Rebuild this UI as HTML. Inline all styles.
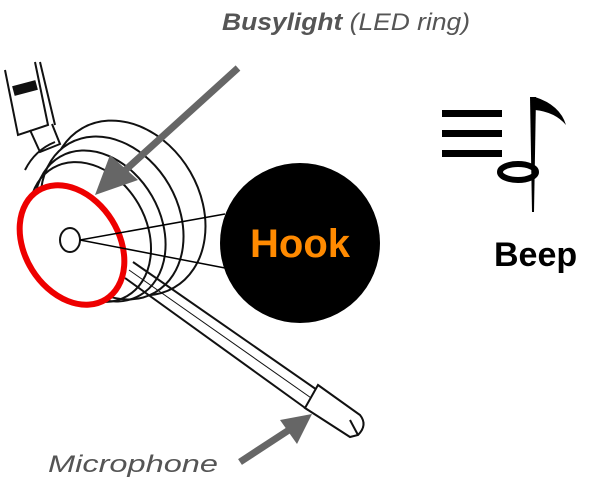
<!DOCTYPE html>
<html><head><style>html,body{margin:0;padding:0;background:#fff;width:600px;height:480px;overflow:hidden}</style></head>
<body>
<svg width="600" height="480" viewBox="0 0 600 480" xmlns="http://www.w3.org/2000/svg">
<g fill="none" stroke="#111" stroke-width="2">
  <!-- headband -->
  <path d="M5 70 L18 135 L48 125 L35 62" fill="#fff"/>
  <path d="M40 62 L55 125"/>
  <rect x="14" y="84" width="22" height="8" fill="#111" transform="rotate(-15 25 88)"/>
  <path d="M30 130 L40 152 L60 144 L52 124"/>
  <!-- ear cup back -->
  <ellipse cx="128" cy="208" rx="72" ry="92" transform="rotate(-30 128 208)" fill="#fff"/>
  <ellipse cx="112" cy="218" rx="66" ry="86" transform="rotate(-30 112 218)" fill="#fff"/>
  <ellipse cx="100" cy="226" rx="60" ry="80" transform="rotate(-30 100 226)"/>
  <ellipse cx="90" cy="232" rx="56" ry="74" transform="rotate(-30 90 232)"/>
  <path d="M25 170 Q35 150 55 142"/>
  <!-- boom -->
  <path d="M133 262 L320 392" />
  <path d="M125 278 L308 410" />
  <path d="M129 270 L314 400" stroke-width="1"/>
  <path d="M318 385 L360 415 Q368 425 358 435 L350 437 L305 408 Z" fill="#fff"/>
  <path d="M350 420 L358 435"/>
</g>
<!-- red ring -->
<ellipse cx="72" cy="245" rx="47" ry="64" transform="rotate(-32 72 245)" fill="#fff" stroke="#e00" stroke-width="6"/>
<ellipse cx="70" cy="240" rx="10" ry="12" fill="#fff" stroke="#111" stroke-width="2"/>
<!-- callout -->
<path d="M80 240 L225 214 M80 240 L225 268" stroke="#000" stroke-width="1.5"/>
<circle cx="300" cy="243" r="80" fill="#000"/>
<text x="300" y="257" text-anchor="middle" font-family="Liberation Sans, sans-serif" font-weight="bold" font-size="40" fill="#ff8a00">Hook</text>
<!-- arrows -->
<g stroke="#666" stroke-width="7" fill="#666">
  <line x1="238" y1="68" x2="120" y2="175"/>
  <polygon points="95,195 110,155 138,180" stroke="none"/>
  <line x1="240" y1="462" x2="292" y2="428"/>
  <polygon points="312,414 280,420 297,444" stroke="none"/>
</g>
<text x="222" y="30" font-family="Liberation Sans, sans-serif" font-style="italic" font-size="24" fill="#555" textLength="248" lengthAdjust="spacingAndGlyphs"><tspan font-weight="bold">Busylight</tspan> (LED ring)</text>
<text x="48" y="472" font-family="Liberation Sans, sans-serif" font-style="italic" font-size="24" fill="#555" textLength="170" lengthAdjust="spacingAndGlyphs">Microphone</text>
<!-- beep icon -->
<g fill="#000">
  <rect x="442" y="110" width="60" height="7"/>
  <rect x="442" y="130" width="60" height="7"/>
  <rect x="442" y="150" width="60" height="7"/>
  <ellipse cx="518" cy="172" rx="18" ry="8" fill="none" stroke="#000" stroke-width="6"/>
  <path d="M530 97 L536 97 L534 212 L532 212 Z"/>
  <path d="M535 97 Q560 105 566 125 Q555 112 535 110 Z"/>
</g>
<text x="494" y="266" font-family="Liberation Sans, sans-serif" font-weight="bold" font-size="34" fill="#000">Beep</text>
</svg>
</body></html>
